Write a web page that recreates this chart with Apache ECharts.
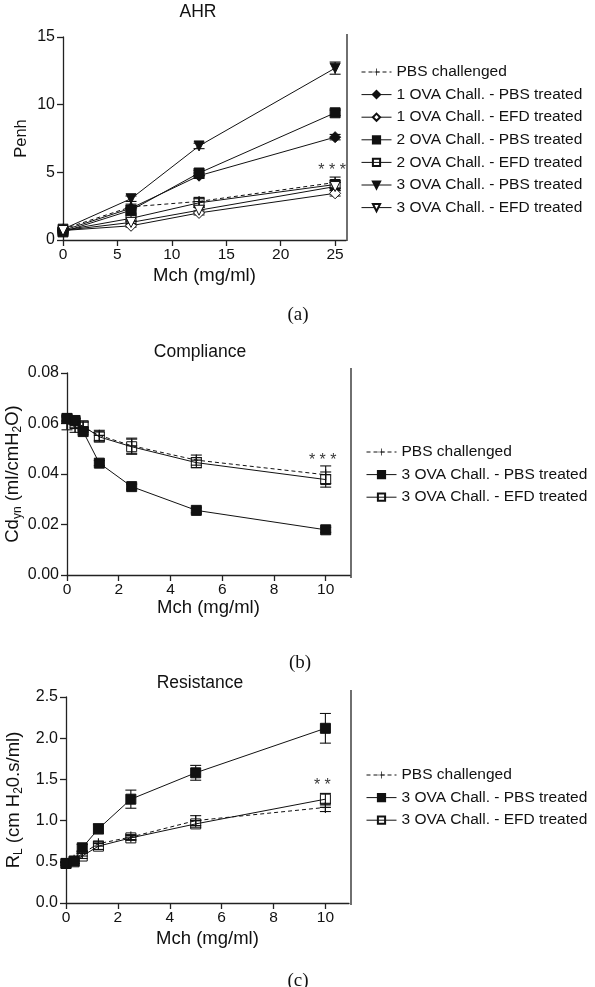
<!DOCTYPE html>
<html>
<head>
<meta charset="utf-8">
<script src="https://cdn.jsdelivr.net/npm/echarts@6/dist/echarts.min.js"></script>
<style>html,body{margin:0;padding:0;background:#fff}#c{width:595px;height:987px}</style>
</head>
<body>
<div id="c"></div>
<script>
// ---------- Panel (a) AHR ----------
const xA = [0, 6.25, 12.5, 25];
const ahrPbsChallenged = [0.8, 2.45, 2.85, 4.25];
const ahr1OvaPbs = [0.7, 2.35, 4.75, 7.6];
const ahr1OvaEfd = [0.7, 1.05, 2.0, 3.45];
const ahr2OvaPbs = [0.6, 2.2, 4.95, 9.4];
const ahr2OvaEfd = [0.7, 1.6, 2.75, 4.1];
const ahr3OvaPbs = [0.8, 3.05, 6.95, 12.7];
const ahr3OvaEfd = [0.7, 1.3, 2.2, 3.95];
const ahrErrPbsChallenged = [0.1, 0.2, 0.3, 0.4];
const ahrErr1OvaPbs = [0.1, 0.2, 0.2, 0.2];
const ahrErr1OvaEfd = [0.1, 0.1, 0.15, 0.2];
const ahrErr2OvaPbs = [0.1, 0.2, 0.2, 0.2];
const ahrErr2OvaEfd = [0.1, 0.2, 0.3, 0.3];
const ahrErr3OvaPbs = [0.1, 0.2, 0.2, 0.45];
const ahrErr3OvaEfd = [0.1, 0.1, 0.2, 0.3];
const ahrXTicks = [0, 5, 10, 15, 20, 25];
const ahrStars = [[25, 5.1, '* * *']];

// ---------- Panel (b) Compliance ----------
const xB = [0, 0.3125, 0.625, 1.25, 2.5, 5, 10];
const cdynPbsChallenged = [0.0600, 0.0585, 0.0585, 0.0553, 0.0512, 0.0455, 0.0397];
const cdyn3OvaPbs = [0.0620, 0.0612, 0.0568, 0.0443, 0.0350, 0.0256, 0.0179];
const cdyn3OvaEfd = [0.0620, 0.0600, 0.0590, 0.0547, 0.0508, 0.0445, 0.0378];
const cdynErrPbsChallenged = [0.0025, 0.002, 0.002, 0.002, 0.003, 0.002, 0.0035];
const cdynErr3OvaPbs = [0.001, 0.001, 0.001, 0.001, 0.001, 0.001, 0.001];
const cdynErr3OvaEfd = [0.001, 0.002, 0.002, 0.002, 0.003, 0.002, 0.003];
const cdynXTicks = [0, 2, 4, 6, 8, 10];
const cdynStars = [[10, 0.0455, '* * *']];

// ---------- Panel (c) Resistance ----------
const xC = [0, 0.3125, 0.625, 1.25, 2.5, 5, 10];
const rlPbsChallenged = [0.48, 0.52, 0.60, 0.72, 0.80, 1.00, 1.16];
const rl3OvaPbs = [0.48, 0.51, 0.67, 0.90, 1.26, 1.58, 2.12];
const rl3OvaEfd = [0.48, 0.50, 0.57, 0.69, 0.79, 0.96, 1.26];
const rlErrPbsChallenged = [0.02, 0.02, 0.03, 0.03, 0.03, 0.06, 0.05];
const rlErr3OvaPbs = [0.02, 0.03, 0.04, 0.06, 0.11, 0.09, 0.18];
const rlErr3OvaEfd = [0.02, 0.02, 0.03, 0.04, 0.03, 0.04, 0.07];
const rlXTicks = [0, 2, 4, 6, 8, 10];
const rlStars = [[10, 1.43, '* *']];

const namesA = ['PBS challenged', '1 OVA Chall. - PBS treated', '1 OVA Chall. - EFD treated',
  '2 OVA Chall. - PBS treated', '2 OVA Chall. - EFD treated',
  '3 OVA Chall. - PBS treated', '3 OVA Chall. - EFD treated'];
const namesBC = ['PBS challenged', '3 OVA Chall. - PBS treated', '3 OVA Chall. - EFD treated'];
// zero-width suffixes keep each panel's legend tied to its own series
const namesB = namesBC.map(n => n + '\u200b');
const namesC = namesBC.map(n => n + '\u200b\u200b');

// ---------- styling helpers ----------
const FONT = '"Liberation Sans", Arial, Helvetica, sans-serif';
const INK = '#111';
const PLUS = 'path://M0,4.5H10V5.5H0Z M4.5,0H5.5V10H4.5Z';
const DOWN_TRI = 'path://M0,0L10,0L5,9Z';

const markers = {
  plus: {symbol: PLUS, size: 11, fill: INK, bw: 0},
  diamondF: {symbol: 'diamond', size: 11, fill: INK, bw: 1},
  diamondO: {symbol: 'diamond', size: 11, fill: '#fff', bw: 1},
  squareF: {symbol: 'rect', size: 10, fill: INK, bw: 1},
  squareO: {symbol: 'rect', size: 10, fill: 'rgba(0,0,0,0)', bw: 1},
  triF: {symbol: DOWN_TRI, size: 10, fill: INK, bw: 1},
  triO: {symbol: DOWN_TRI, size: 10, fill: '#fff', bw: 1}
};

function zip(xs, ys) { return xs.map((x, i) => [x, ys[i]]); }
function zip3(xs, ys, es) { return xs.map((x, i) => [x, ys[i], es[i]]); }

function lineSeries(name, gi, xs, ys, mk, dashed) {
  return {
    type: 'line', name: name, xAxisIndex: gi, yAxisIndex: gi,
    data: zip(xs, ys),
    symbol: mk.symbol, symbolSize: mk.size, showSymbol: true,
    lineStyle: {color: INK, width: 1, type: dashed ? [4, 3] : 'solid'},
    itemStyle: {color: mk.fill, borderColor: INK, borderWidth: mk.bw},
    emphasis: {disabled: true},
    z: 3
  };
}

function errSeries(gi, xs, ys, es) {
  return {
    type: 'custom', xAxisIndex: gi, yAxisIndex: gi,
    data: zip3(xs, ys, es),
    encode: {x: 0, y: 1},
    z: 2,
    silent: true,
    renderItem: function (params, api) {
      const x = api.value(0), y = api.value(1), e = api.value(2);
      const t = api.coord([x, y + e]);
      const b = api.coord([x, y - e]);
      const h = 5.5;
      const st = {stroke: INK, lineWidth: 1.1};
      return {type: 'group', children: [
        {type: 'line', shape: {x1: t[0], y1: t[1], x2: b[0], y2: b[1]}, style: st},
        {type: 'line', shape: {x1: t[0] - h, y1: t[1], x2: t[0] + h, y2: t[1]}, style: st},
        {type: 'line', shape: {x1: b[0] - h, y1: b[1], x2: b[0] + h, y2: b[1]}, style: st}
      ]};
    }
  };
}

function starSeries(gi, arr) {
  return {
    type: 'scatter', xAxisIndex: gi, yAxisIndex: gi,
    data: arr, symbolSize: 0, silent: true, z: 5,
    label: {show: true, position: 'inside', offset: [-3, 0],
      formatter: p => p.value[2], color: '#000', fontSize: 16, fontFamily: FONT}
  };
}

function xAxis(gi, max, ticks, nameGap) {
  return {
    type: 'value', gridIndex: gi, min: 0, max: max,
    name: 'Mch (mg/ml)', nameLocation: 'middle', nameGap: nameGap,
    nameTextStyle: {fontSize: 18.5, color: INK, fontFamily: FONT},
    axisLine: {show: true, onZero: false, lineStyle: {color: '#222', width: 1.3}},
    axisTick: {show: true, customValues: ticks, length: 6, lineStyle: {color: '#222', width: 1.3}},
    axisLabel: {customValues: ticks, margin: 7, fontSize: 15.5, color: INK, fontFamily: FONT},
    splitLine: {show: false}
  };
}

function yAxis(gi, min, max, interval, name, nameGap, fmt, nameStyle) {
  return {
    type: 'value', gridIndex: gi, min: min, max: max, interval: interval,
    name: name, nameLocation: 'middle', nameGap: nameGap, nameRotate: 90,
    nameTextStyle: nameStyle,
    axisLine: {show: true, onZero: false, lineStyle: {color: '#222', width: 1.3}},
    axisTick: {show: true, length: 6, lineStyle: {color: '#222', width: 1.3}},
    axisLabel: {margin: 8, fontSize: 16, color: INK, fontFamily: FONT, formatter: fmt},
    splitLine: {show: false}
  };
}

const nameRich = {
  n: {fontSize: 18.5, color: INK, fontFamily: FONT, lineHeight: 22},
  s: {fontSize: 12, color: INK, fontFamily: FONT, verticalAlign: 'bottom', lineHeight: 12}
};

function legend(names, left, top) {
  return {
    orient: 'vertical', left: left, top: top,
    data: names.map(n => ({name: n})),
    itemWidth: 30, itemHeight: 9, itemGap: 6.6,
    textStyle: {fontSize: 15.5, color: INK, fontFamily: FONT},
    lineStyle: {width: 1},
    selectedMode: false
  };
}

const chart = echarts.init(document.getElementById('c'), null, {renderer: 'canvas'});

const seriesA = [
  lineSeries(namesA[0], 0, xA, ahrPbsChallenged, markers.plus, true),
  lineSeries(namesA[1], 0, xA, ahr1OvaPbs, markers.diamondF, false),
  lineSeries(namesA[2], 0, xA, ahr1OvaEfd, markers.diamondO, false),
  lineSeries(namesA[3], 0, xA, ahr2OvaPbs, markers.squareF, false),
  lineSeries(namesA[4], 0, xA, ahr2OvaEfd, markers.squareO, false),
  lineSeries(namesA[5], 0, xA, ahr3OvaPbs, markers.triF, false),
  lineSeries(namesA[6], 0, xA, ahr3OvaEfd, markers.triO, false),
  errSeries(0, xA, ahrPbsChallenged, ahrErrPbsChallenged),
  errSeries(0, xA, ahr1OvaPbs, ahrErr1OvaPbs),
  errSeries(0, xA, ahr1OvaEfd, ahrErr1OvaEfd),
  errSeries(0, xA, ahr2OvaPbs, ahrErr2OvaPbs),
  errSeries(0, xA, ahr2OvaEfd, ahrErr2OvaEfd),
  errSeries(0, xA, ahr3OvaPbs, ahrErr3OvaPbs),
  errSeries(0, xA, ahr3OvaEfd, ahrErr3OvaEfd),
  starSeries(0, ahrStars)
];

const seriesB = [
  lineSeries(namesB[0], 1, xB, cdynPbsChallenged, markers.plus, true),
  lineSeries(namesB[1], 1, xB, cdyn3OvaPbs, markers.squareF, false),
  lineSeries(namesB[2], 1, xB, cdyn3OvaEfd, markers.squareO, false),
  errSeries(1, xB, cdynPbsChallenged, cdynErrPbsChallenged),
  errSeries(1, xB, cdyn3OvaPbs, cdynErr3OvaPbs),
  errSeries(1, xB, cdyn3OvaEfd, cdynErr3OvaEfd),
  starSeries(1, cdynStars)
];

const seriesC = [
  lineSeries(namesC[0], 2, xC, rlPbsChallenged, markers.plus, true),
  lineSeries(namesC[1], 2, xC, rl3OvaPbs, markers.squareF, false),
  lineSeries(namesC[2], 2, xC, rl3OvaEfd, markers.squareO, false),
  errSeries(2, xC, rlPbsChallenged, rlErrPbsChallenged),
  errSeries(2, xC, rl3OvaPbs, rlErr3OvaPbs),
  errSeries(2, xC, rl3OvaEfd, rlErr3OvaEfd),
  starSeries(2, rlStars)
];

function txt(t, x, y, size, family) {
  return {type: 'text', x: x, y: y, silent: true,
    style: {text: t, x: 0, y: 0, fill: INK, fontSize: size, fontFamily: family || FONT,
      align: 'center', verticalAlign: 'middle'}};
}
function vline(x, y1, y2) {
  return {type: 'line', silent: true, shape: {x1: x, y1: y1, x2: x, y2: y2},
    style: {stroke: '#333', lineWidth: 1.4}};
}
const SERIF = '"Liberation Serif", "Times New Roman", serif';

chart.setOption({
  animation: false,
  backgroundColor: '#fff',
  grid: [
    {left: 63, top: 37, width: 283, height: 203},
    {left: 67, top: 373, width: 283, height: 202},
    {left: 66, top: 697, width: 283, height: 206}
  ],
  xAxis: [
    xAxis(0, 26, ahrXTicks, 26),
    xAxis(1, 10.94, cdynXTicks, 23),
    xAxis(2, 10.91, rlXTicks, 26)
  ],
  yAxis: [
    yAxis(0, 0, 15, 5, 'Penh', 33, v => String(v),
      {fontSize: 16.5, color: INK, fontFamily: FONT}),
    yAxis(1, 0, 0.08, 0.02, '{n|Cd}{s|yn}{n| (ml/cmH}{s|2}{n|O)}', 41,
      v => v.toFixed(2), {rich: nameRich}),
    yAxis(2, 0, 2.5, 0.5, '{n|R}{s|L}{n| (cm H}{s|2}{n|0.s/ml)}', 41,
      v => v.toFixed(1), {rich: nameRich})
  ],
  legend: [
    legend(namesA, 356, 59),
    legend(namesB, 361, 439),
    legend(namesC, 361, 762)
  ],
  series: [].concat(seriesA, seriesB, seriesC),
  graphic: [
    txt('AHR', 198, 12, 17.5),
    txt('Compliance', 200, 352, 17.5),
    txt('Resistance', 200, 683, 17.5),
    txt('(a)', 298, 315, 19, SERIF),
    txt('(b)', 300, 663, 19, SERIF),
    txt('(c)', 298, 981, 19, SERIF),
    vline(347, 34, 241),
    vline(351, 368, 578),
    vline(351, 690, 905)
  ]
});
</script>
</body>
</html>
